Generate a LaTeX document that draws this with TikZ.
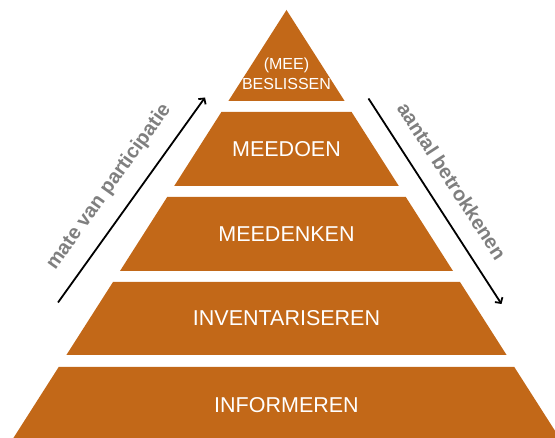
\documentclass[tikz,border=0pt]{standalone}
\usepackage{fontspec}
\setmainfont{Liberation Sans}
\usepackage{xcolor}
\definecolor{pyramid-orange}{HTML}{C26818}
\definecolor{pyramid-white}{HTML}{FFFFFF}
\definecolor{label-grey}{HTML}{7F7F7F}
\usetikzlibrary{arrows.meta}

\begin{document}
\begin{tikzpicture}[x=1pt, y=-1pt,
    level/.style={text=pyramid-white, font=\fontsize{21.5}{24}\selectfont},
    side/.style={text=label-grey, font=\bfseries\fontsize{20}{22}\selectfont},
    trend/.style={line width=1.8pt, -{Straight Barb[length=4pt,width=9pt]}}]

    % Frame
    \useasboundingbox (0, 0) rectangle (555, 438);

    % Top
    \fill[pyramid-orange] (286.5, 10) -- (344.6, 101) -- (228.4, 101) -- cycle;

    % Layers
    \fill[pyramid-orange] (221.4, 112) -- (351.6, 112) -- (398.8, 186) -- (174.2, 186) -- cycle;
    \fill[pyramid-orange] (167.2, 197) -- (405.8, 197) -- (453.0, 271) -- (120.0, 271) -- cycle;
    \fill[pyramid-orange] (113.0, 282) -- (460.0, 282) -- (506.6, 355) -- (66.4, 355) -- cycle;
    \fill[pyramid-orange] (58.7, 367) -- (514.3, 367) -- (559.6, 438) -- (13.4, 438) -- cycle;

    % Labels
    \node[level, font=\fontsize{16}{20}\selectfont, align=center] (beslissen) at (286.5, 74) {(MEE)\\BESLISSEN};
    \node[level] (meedoen) at (286.5, 149) {MEEDOEN};
    \node[level] (meedenken) at (286.5, 234) {MEEDENKEN};
    \node[level] (inventariseren) at (286.5, 318.5) {INVENTARISEREN};
    \node[level] (informeren) at (286.5, 405) {INFORMEREN};

    % Arrows
    \coordinate (participatie-start) at (58, 302.5);
    \coordinate (participatie-end) at (205, 97.5);
    \coordinate (betrokkenen-start) at (368.5, 98.5);
    \coordinate (betrokkenen-end) at (501.5, 304);
    \draw[trend] (participatie-start) -- (participatie-end);
    \draw[trend] (betrokkenen-start) -- (betrokkenen-end);
    \node[side, rotate=54.4] (participatie) at (109, 187) {mate van participatie};
    \node[side, rotate=-57] (betrokkenen) at (452, 181) {aantal betrokkenen};

\end{tikzpicture}
\end{document}
